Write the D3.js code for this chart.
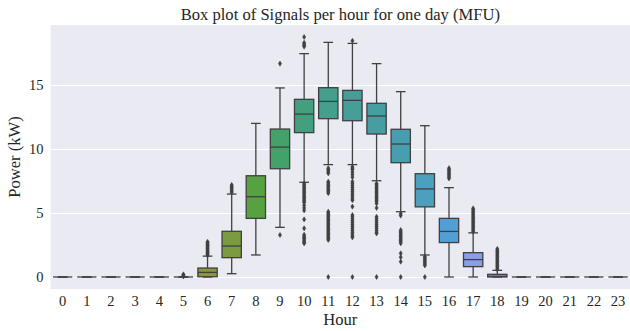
<!DOCTYPE html>
<html>
<head>
<meta charset="utf-8">
<script src="https://cdn.jsdelivr.net/npm/d3@7/dist/d3.min.js"></script>
<style>
  html, body { margin: 0; padding: 0; background: #fff; }
  svg { display: block; font-family: "Liberation Serif", "Times New Roman", serif; }
</style>
</head>
<body>
<svg id="chart" width="630" height="331"></svg>
<script>
// Hourly power summary (kW): quartiles, whisker ends and outlying readings
const hours = d3.range(24).map(String);
const q1 =        [0, 0, 0, 0, 0, 0, 0.02, 1.51, 4.58, 8.46, 11.28, 12.37, 12.21, 11.17, 8.93, 5.48, 2.69, 0.81, 0, 0, 0, 0, 0, 0];
const medians =   [0, 0, 0, 0, 0, 0, 0.36, 2.42, 6.27, 10.15, 12.73, 13.72, 13.80, 12.58, 10.39, 6.88, 3.56, 1.36, 0.06, 0, 0, 0, 0, 0];
const q3 =        [0, 0, 0, 0, 0, 0, 0.70, 3.57, 7.91, 11.56, 13.88, 14.79, 14.58, 13.57, 11.54, 8.07, 4.58, 1.90, 0.21, 0, 0, 0, 0, 0];
const whiskerLo = [0, 0, 0, 0, 0, 0, 0, 0.26, 1.72, 3.88, 7.40, 8.78, 8.78, 7.52, 5.10, 1.72, 0, 0, 0, 0, 0, 0, 0, 0];
const whiskerHi = [0, 0, 0, 0, 0, 0, 1.63, 6.48, 12.0, 14.77, 17.45, 18.33, 18.25, 16.67, 14.48, 11.82, 6.98, 3.45, 0.52, 0, 0, 0, 0, 0];
const outliers = [
  [], [], [], [], [],
  [0.05, 0.1, 0.15, 0.2],
  [1.7, 1.78, 1.85, 1.92, 2.0, 2.08, 2.15, 2.22, 2.3, 2.38, 2.45, 2.52, 2.6, 2.68, 2.75],
  [6.6, 6.7, 6.8, 6.9, 7.0, 7.1, 7.19],
  [],
  [3.28, 16.67],
  [18.75, 18.3, 18.2, 18.1, 18.0, 7.3, 7.2, 7.1, 7.0, 6.9, 6.8, 6.7, 6.6, 6.5, 6.4, 6.3, 6.2, 6.1, 6.0, 5.9, 5.8, 5.6, 5.4, 5.2,
   4.5, 3.8, 3.3, 3.2, 3.1, 3.0, 2.9, 2.8, 2.7, 2.63],
  [8.5, 8.4, 8.3, 8.2, 8.1, 7.45, 7.35, 7.25, 7.15, 7.05, 6.95, 6.85, 6.75, 6.65, 6.55, 5.1, 5.0, 4.9, 4.8, 4.7, 4.6, 4.5,
   4.4, 4.3, 4.2, 4.1, 4.0, 3.9, 3.8, 3.7, 3.6, 3.5, 3.4, 3.3, 3.2, 3.1, 3.0, 2.9, 0],
  [18.45, 8.6, 8.5, 8.4, 8.2, 8.0, 7.8, 7.45, 7.3, 7.15, 7.0, 6.85, 6.7, 6.55, 6.4, 6.25, 6.1, 6.0, 5.5, 4.84, 4.7, 4.55,
   4.4, 4.25, 4.1, 3.95, 3.8, 3.65, 3.5, 3.35, 3.2, 3.1, 0],
  [7.3, 7.2, 7.1, 7.0, 6.9, 6.8, 6.7, 6.6, 6.5, 6.4, 6.3, 6.2, 6.1, 6.0, 5.9, 5.75, 5.4, 4.7, 4.55, 4.4, 4.25, 4.1, 3.95,
   3.8, 3.65, 3.5, 3.4, 0],
  [4.95, 4.8, 3.67, 3.55, 3.45, 3.35, 3.25, 3.15, 3.05, 2.95, 2.85, 2.75, 2.63, 1.85, 1.55, 1.2, 0],
  [1.6, 1.5, 1.4, 1.3, 1.2, 1.1, 1.0, 0.9, 0],
  [7.7, 7.8, 7.9, 8.0, 8.1, 8.2, 8.3, 8.4, 8.5],
  [3.55, 3.65, 3.75, 3.85, 3.95, 4.05, 4.15, 4.25, 4.35, 4.45, 4.55, 4.65, 4.75, 4.85, 4.95, 5.05, 5.15, 5.25, 5.36],
  [0.6, 0.7, 0.8, 0.9, 1.0, 1.1, 1.2, 1.3, 1.4, 1.5, 1.6, 1.7, 1.8, 1.9, 2.0, 2.1, 2.19],
  [], [], [], [], []
];
const yTicks = [0, 5, 10, 15];

// ---- HUSL colour space (evenly spaced hues at constant lightness) ----
const M = [[3.2406, -1.5372, -0.4986], [-0.9689, 1.8758, 0.0415], [0.0557, -0.2040, 1.0570]];
const refU = 0.19784, refV = 0.46834, labE = 0.008856, labK = 903.3;

function maxChroma(L, H) {
  const hr = H * Math.PI / 180, sinH = Math.sin(hr), cosH = Math.cos(hr);
  const sub1 = Math.pow(L + 16, 3) / 1560896.0;
  const sub2 = sub1 > labE ? sub1 : L / labK;
  let result = Infinity;
  for (const [m1, m2, m3] of M) {
    const top = (0.99915 * m1 + 1.05122 * m2 + 1.14460 * m3) * sub2;
    const rb = 0.86330 * m3 - 0.17266 * m2;
    const lb = 0.12949 * m3 - 0.38848 * m1;
    const bottom = (rb * sinH + lb * cosH) * sub2;
    for (const t of [0, 1]) {
      const C = L * (top - 1.05122 * t) / (bottom + 0.17266 * sinH * t);
      if (C > 0 && C < result) result = C;
    }
  }
  return result;
}

function huslToRgb(H, S, L) {
  const C = maxChroma(L, H) / 100 * S;
  const hr = H * Math.PI / 180;
  const U = Math.cos(hr) * C, V = Math.sin(hr) * C;
  const t = (L + 16) / 116;
  const Y = Math.pow(t, 3) > labE ? Math.pow(t, 3) : (116 * t - 16) / labK;
  const vu = U / (13 * L) + refU, vv = V / (13 * L) + refV;
  const X = -(9 * Y * vu) / ((vu - 4) * vv - vu * vv);
  const Z = (9 * Y - 15 * vv * Y - vv * X) / (3 * vv);
  const lin = M.map(r => r[0] * X + r[1] * Y + r[2] * Z);
  return lin.map(c => {
    const v = c <= 0.0031308 ? 12.92 * c : 1.055 * Math.pow(c, 1 / 2.4) - 0.055;
    return Math.max(0, Math.min(1, v));
  });
}

// one hue per hour, then softened for filled patches
const fills = hours.map((_, i) => {
  const h = ((i / hours.length + 0.01) % 1) * 359;
  const [r, g, b] = huslToRgb(h, 0.9 * 99, 0.65 * 99);
  const c = d3.hsl(d3.rgb(r * 255, g * 255, b * 255));
  c.s *= 0.75;
  return c;
});
const minLight = d3.min(fills, c => c.l);
const lum = Math.round(minLight * 0.6 * 255);
const edge = d3.rgb(lum, lum, lum).formatHex();

// ---- layout ----
const svg = d3.select("#chart");
const margin = { left: 50.6, right: 630.1, top: 25, bottom: 289 };

const yMax = d3.max(outliers.flat().concat(whiskerHi));
const pad = yMax * 0.05;
const y = d3.scaleLinear().domain([-pad, yMax + pad]).range([margin.bottom, margin.top]);
const x = d3.scaleBand().domain(hours).range([margin.left, margin.right])
  .paddingInner(0.2).paddingOuter(0.1);

// plot background and horizontal grid
svg.append("rect")
  .attr("x", margin.left).attr("y", margin.top)
  .attr("width", margin.right - margin.left).attr("height", margin.bottom - margin.top)
  .attr("fill", "#EAEAF2");

const yAxis = svg.append("g")
  .attr("transform", `translate(${margin.left},0)`)
  .call(d3.axisLeft(y).tickValues(yTicks).tickSize(-(margin.right - margin.left)).tickPadding(7));
yAxis.select(".domain").remove();
yAxis.selectAll(".tick line").attr("stroke", "#fff").attr("stroke-width", 1);
yAxis.selectAll(".tick text").attr("font-size", 14.5).attr("fill", "#262626")
  .attr("font-family", "Liberation Serif, serif");

const xAxis = svg.append("g")
  .attr("transform", `translate(0,${margin.bottom})`)
  .call(d3.axisBottom(x).tickSize(0).tickPadding(7));
xAxis.select(".domain").remove();
xAxis.selectAll(".tick text").attr("font-size", 14.5).attr("fill", "#262626")
  .attr("font-family", "Liberation Serif, serif");

// ---- boxes ----
const bw = x.bandwidth();
const g = svg.append("g");
hours.forEach((hName, i) => {
  const cx = x(hName) + bw / 2;
  const cap = bw / 4;
  const grp = g.append("g");
  // whiskers
  grp.append("line").attr("x1", cx).attr("x2", cx)
    .attr("y1", y(q1[i])).attr("y2", y(whiskerLo[i]));
  grp.append("line").attr("x1", cx).attr("x2", cx)
    .attr("y1", y(q3[i])).attr("y2", y(whiskerHi[i]));
  grp.append("line").attr("x1", cx - cap).attr("x2", cx + cap)
    .attr("y1", y(whiskerLo[i])).attr("y2", y(whiskerLo[i]));
  grp.append("line").attr("x1", cx - cap).attr("x2", cx + cap)
    .attr("y1", y(whiskerHi[i])).attr("y2", y(whiskerHi[i]));
  // box
  grp.append("rect")
    .attr("x", x(hName)).attr("width", bw)
    .attr("y", y(q3[i])).attr("height", Math.max(0, y(q1[i]) - y(q3[i])))
    .attr("fill", fills[i].formatHex());
  grp.append("line").attr("x1", x(hName)).attr("x2", x(hName) + bw)
    .attr("y1", y(medians[i])).attr("y2", y(medians[i]));
  grp.selectAll("line").attr("stroke", edge).attr("stroke-width", 1.3);
  grp.select("rect").attr("stroke", edge).attr("stroke-width", 1.3);
  // outlying readings as thin diamonds
  grp.selectAll("path.flier").data(outliers[i]).join("path")
    .attr("class", "flier")
    .attr("transform", v => `translate(${cx},${y(v)})`)
    .attr("d", "M0,-2.6L1.6,0L0,2.6L-1.6,0Z")
    .attr("fill", edge).attr("stroke", edge).attr("stroke-width", 0.5);
});

// ---- titles ----
svg.append("text")
  .attr("x", (margin.left + margin.right) / 2).attr("y", 20)
  .attr("text-anchor", "middle").attr("font-size", 16.6).attr("fill", "#262626")
  .text("Box plot of Signals per hour for one day (MFU)");
svg.append("text")
  .attr("x", (margin.left + margin.right) / 2).attr("y", 325)
  .attr("text-anchor", "middle").attr("font-size", 16.6).attr("fill", "#262626")
  .text("Hour");
svg.append("text")
  .attr("transform", `translate(20,${(margin.top + margin.bottom) / 2}) rotate(-90)`)
  .attr("text-anchor", "middle").attr("font-size", 16.6).attr("fill", "#262626")
  .text("Power (kW)");
</script>
</body>
</html>
